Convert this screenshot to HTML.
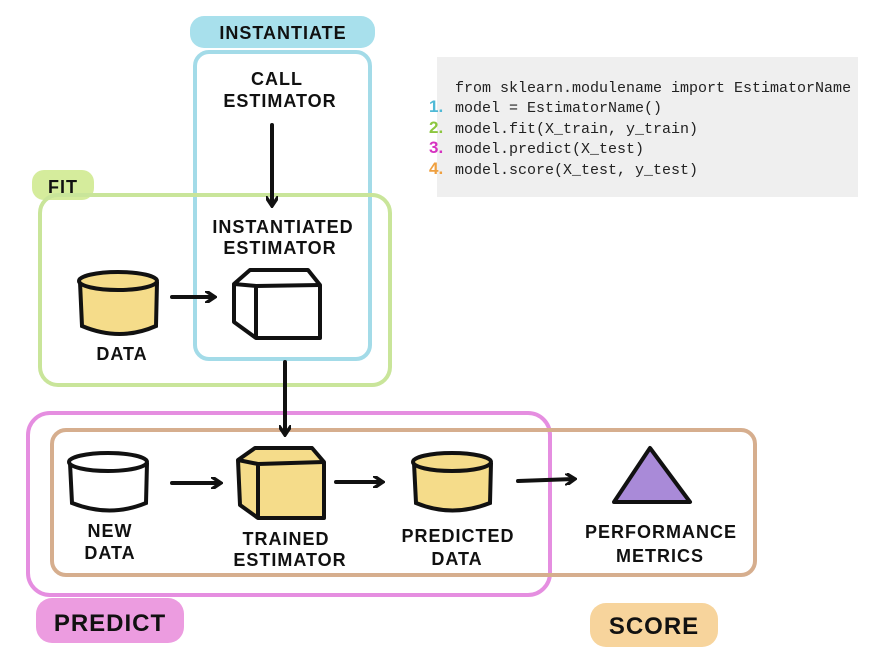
<!DOCTYPE html>
<html><head><meta charset="utf-8"><style>
html,body{margin:0;padding:0;background:#fff;width:875px;height:663px;overflow:hidden}
svg{display:block}
.t{font-family:"Liberation Sans",sans-serif;font-weight:bold;font-size:18px;fill:#111;text-anchor:middle;letter-spacing:1px}
.c{font-family:"Liberation Mono","DejaVu Sans Mono",monospace;font-size:15px;fill:#222}
.n{font-family:"Liberation Sans",sans-serif;font-weight:bold;font-size:17px}
</style></head><body>
<svg width="875" height="663" viewBox="0 0 875 663" xmlns="http://www.w3.org/2000/svg">
<defs><marker id="a" markerWidth="12" markerHeight="12" refX="9" refY="6" orient="auto" markerUnits="userSpaceOnUse"><path d="M1,0 L10,6 L1,12" fill="none" stroke="#111" stroke-width="3.5" stroke-linecap="round"/></marker></defs>
<rect x="437" y="57" width="421" height="140" fill="#efefef"/>
<text class="c" x="455" y="92">from sklearn.modulename import EstimatorName</text>
<text class="c" x="455" y="112">model = EstimatorName()</text>
<text class="c" x="455" y="133">model.fit(X_train, y_train)</text>
<text class="c" x="455" y="153">model.predict(X_test)</text>
<text class="c" x="455" y="174">model.score(X_test, y_test)</text>
<text class="n" x="429" y="112" fill="#4fb9d6">1.</text>
<text class="n" x="429" y="133" fill="#8cc63f">2.</text>
<text class="n" x="429" y="153" fill="#d633c0">3.</text>
<text class="n" x="429" y="174" fill="#efa040">4.</text>
<rect x="190" y="16" width="185" height="32" rx="14" fill="#a8e0ec"/>
<text class="t" x="283" y="39">INSTANTIATE</text>
<rect x="32" y="170" width="62" height="30" rx="12" fill="#d5ec9c"/>
<text class="t" x="63" y="193">FIT</text>
<rect x="36" y="598" width="148" height="45" rx="16" fill="#ec9ce0"/>
<text class="t" x="110" y="631" style="font-size:24px">PREDICT</text>
<rect x="590" y="603" width="128" height="44" rx="16" fill="#f7d49c"/>
<text class="t" x="654" y="634" style="font-size:24px">SCORE</text>
<rect x="195" y="52" width="175" height="307" rx="14" fill="none" stroke="#a3dbe8" stroke-width="4"/>
<rect x="40" y="195" width="350" height="190" rx="18" fill="none" stroke="#c9e59a" stroke-width="4"/>
<rect x="28" y="413" width="522" height="182" rx="22" fill="none" stroke="#e58ee0" stroke-width="4"/>
<rect x="52" y="430" width="703" height="145" rx="14" fill="none" stroke="#d6ae8e" stroke-width="4"/>
<text class="t" x="277" y="85">CALL</text>
<text class="t" x="280" y="107">ESTIMATOR</text>
<text class="t" x="283" y="233">INSTANTIATED</text>
<text class="t" x="280" y="254">ESTIMATOR</text>
<text class="t" x="122" y="360">DATA</text>
<text class="t" x="110" y="537">NEW</text>
<text class="t" x="110" y="559">DATA</text>
<text class="t" x="286" y="545">TRAINED</text>
<text class="t" x="290" y="566">ESTIMATOR</text>
<text class="t" x="458" y="542">PREDICTED</text>
<text class="t" x="457" y="565">DATA</text>
<text class="t" x="661" y="538">PERFORMANCE</text>
<text class="t" x="660" y="562">METRICS</text>
<g stroke="#111" stroke-width="4" fill="none" stroke-linecap="round">
<line x1="272" y1="125" x2="272" y2="205" marker-end="url(#a)"/>
<line x1="172" y1="297" x2="214" y2="297" marker-end="url(#a)"/>
<line x1="285" y1="362" x2="285" y2="434" marker-end="url(#a)"/>
<line x1="172" y1="483" x2="220" y2="483" marker-end="url(#a)"/>
<line x1="336" y1="482" x2="382" y2="482" marker-end="url(#a)"/>
<line x1="518" y1="481" x2="574" y2="479" marker-end="url(#a)"/>
</g>
<g stroke="#111" stroke-width="4">
<path d="M80,282 L82,326 Q120,342 156,326 L157,282" fill="#f5dc8a"/>
<ellipse cx="118" cy="281" rx="39" ry="9" fill="#f5dc8a"/>
<path d="M70,463 L72,503 Q110,518 146,503 L147,463" fill="#fff"/>
<ellipse cx="108" cy="462" rx="39" ry="9" fill="#fff"/>
<path d="M414,463 L416,503 Q452,518 490,503 L491,463" fill="#f5dc8a"/>
<ellipse cx="452" cy="462" rx="39" ry="9" fill="#f5dc8a"/>
</g>
<g stroke="#111" stroke-width="4" stroke-linejoin="round">
<path d="M234,284 L250,270 L308,270 L320,285 L320,338 L256,338 L234,322 Z" fill="#fff"/>
<path d="M234,284 L256,286 L320,285 M256,286 L256,338" fill="none"/>
<path d="M238,460 L255,448 L312,448 L324,462 L324,518 L258,518 L240,505 Z" fill="#f5dc8a"/>
<path d="M238,460 L258,464 L324,462 M258,464 L258,518" fill="none"/>
</g>
<path d="M650,448 L690,502 L614,502 Z" fill="#a98ad8" stroke="#111" stroke-width="4" stroke-linejoin="round"/>
</svg>
</body></html>
